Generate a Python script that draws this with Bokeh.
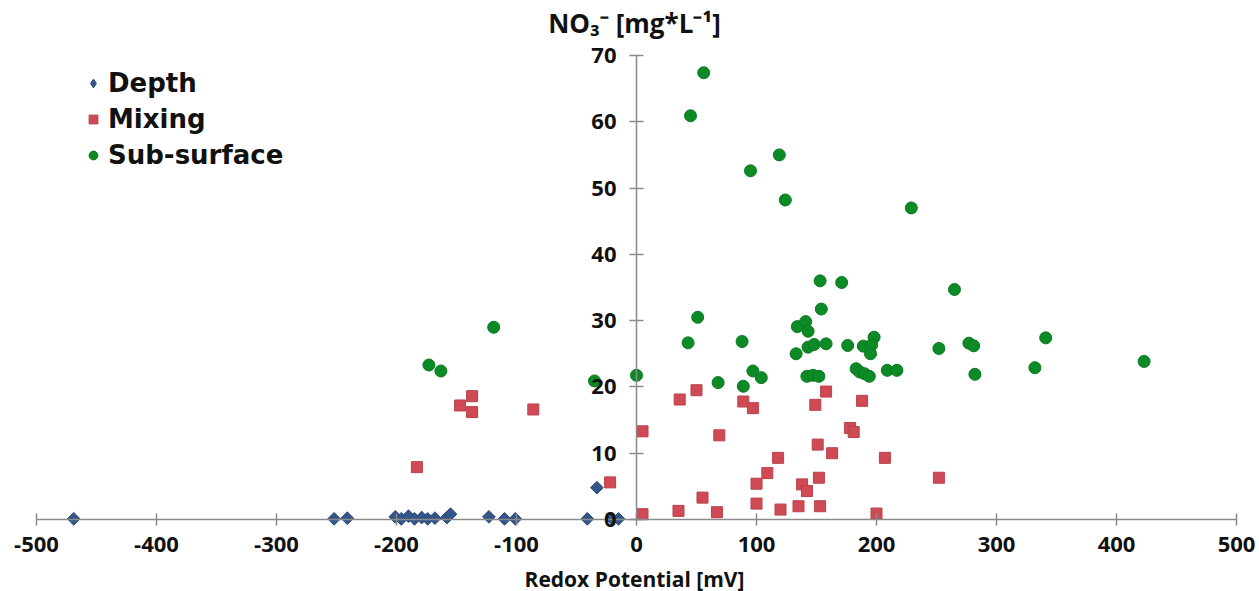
import math
from bokeh.plotting import figure
from bokeh.models import LinearAxis, FixedTicker, Range1d, Label, Legend, LegendItem
from bokeh.embed import file_html
from bokeh.resources import INLINE

# ---------------- data ----------------
depth_x = [-469, -252, -241, -201, -196, -190, -185, -179, -174, -168, -158, -155,
           -123, -110, -101, -41, -33, -20, -15]
depth_y = [0.1, 0.1, 0.2, 0.4, 0.1, 0.5, 0.1, 0.3, 0.1, 0.2, 0.3, 0.8,
           0.4, 0.1, 0.1, 0.1, 4.8, 0.1, 0.1]

mixing_x = [-183, -147, -137, -137, -86, -22, 5, 5, 36, 50, 55, 35, 67, 69, 89, 97,
            100, 100, 109, 118, 120, 135, 138, 142, 149, 151, 152, 153, 158, 163,
            178, 181, 188, 200, 207, 252]
mixing_y = [7.9, 17.2, 18.6, 16.2, 16.6, 5.6, 13.3, 0.8, 18.1, 19.5, 3.3, 1.3, 1.1,
            12.7, 17.8, 16.8, 5.4, 2.4, 7.0, 9.3, 1.5, 2.0, 5.3, 4.3, 17.3, 11.3, 6.3,
            2.0, 19.3, 10.0, 13.8, 13.2, 17.9, 0.9, 9.3, 6.3]

sub_x = [-173, -163, -119, -35, 0, 45, 56, 95, 119, 124, 229, 265, 153, 171, 154,
         51, 134, 141, 143, 43, 88, 133, 143, 148, 158, 176, 189, 198, 196, 195,
         97, 104, 68, 89, 142, 147, 152, 183, 186, 190, 194, 209, 217, 252, 277,
         281, 282, 332, 341, 423]
sub_y = [23.3, 22.4, 29.0, 20.9, 21.75, 60.9, 67.4, 52.6, 55.0, 48.2, 47.0, 34.7,
         36.0, 35.75, 31.75, 30.5, 29.1, 29.85, 28.4, 26.65, 26.85, 25.0, 26.0, 26.4,
         26.5, 26.25, 26.15, 27.5, 26.35, 25.0, 22.4, 21.4, 20.65, 20.1, 21.6, 21.75,
         21.6, 22.75, 22.25, 22.0, 21.6, 22.5, 22.5, 25.8, 26.6, 26.2, 21.9, 22.9,
         27.4, 23.85]

x_ticks = [-500, -400, -300, -200, -100, 0, 100, 200, 300, 400, 500]
y_ticks = [0, 10, 20, 30, 40, 50, 60, 70]

x_title = "Redox Potential [mV]"
y_title = "NO\u2083\u207b [mg*L\u207b\u00b9]"
series_names = ["Depth", "Mixing", "Sub-surface"]

FONT = "Open Sans"
LEG_FONT = "DejaVu Sans"
AXIS_COLOR = "#8a8a8a"
BLUE_FILL, BLUE_LINE = "#33568a", "#2a4874"
RED_FILL, RED_LINE = "#cf4a54", "#b9404a"
GREEN_FILL, GREEN_LINE = "#0b8a25", "#0a7a20"

W, H = 1259, 591
p = figure(width=W, height=H, output_backend="svg", toolbar_location=None,
           x_range=Range1d(-530, -530 + W / 1.2),
           y_range=Range1d(-72 / 6.629, -72 / 6.629 + H / 6.629),
           x_axis_location=None, y_axis_location=None,
           min_border_left=0, min_border_right=0, min_border_top=0, min_border_bottom=0)
p.outline_line_color = None
p.background_fill_color = "white"
p.border_fill_color = "white"
for g in p.grid:
    g.visible = False


def style_axis(ax, ticks):
    ax.axis_line_color = AXIS_COLOR
    ax.axis_line_width = 1.5
    ax.major_tick_line_color = AXIS_COLOR
    ax.major_tick_line_width = 1.5
    ax.major_tick_in = 7
    ax.major_tick_out = 7
    ax.minor_tick_line_color = None
    ax.major_label_text_font = FONT
    ax.major_label_text_font_style = "bold"
    ax.major_label_text_font_size = "22px"
    ax.major_label_text_color = "#111111"
    ax.major_label_overrides = {t: str(t) for t in ticks}


xaxis = LinearAxis(fixed_location=0, ticker=FixedTicker(ticks=x_ticks), bounds=(-500, 500))
style_axis(xaxis, x_ticks)
xaxis.major_tick_in = 6
xaxis.major_tick_out = 6
xaxis.major_label_standoff = 11
p.add_layout(xaxis, "below")

yaxis = LinearAxis(fixed_location=0, ticker=FixedTicker(ticks=y_ticks), bounds=(0, 70))
style_axis(yaxis, y_ticks)
yaxis.major_label_standoff = 13
p.add_layout(yaxis, "left")

r_depth = p.scatter(depth_x, depth_y, marker="square", angle=math.pi / 4, size=9,
                    fill_color=BLUE_FILL, line_color=BLUE_LINE, line_width=1)
r_mix = p.scatter(mixing_x, mixing_y, marker="square", size=11, fill_color=RED_FILL,
                  line_color=RED_LINE, line_width=1)
r_sub = p.scatter(sub_x, sub_y, marker="circle", size=12, fill_color=GREEN_FILL,
                  line_color=GREEN_LINE, line_width=1)
# legend key for the diamond series: a NaN point, never drawn in the plot
nan = float("nan")
r_depth_key = p.scatter(x=[nan], y=[nan], marker="diamond", size=15, fill_color=BLUE_FILL,
                        line_color=BLUE_LINE, line_width=1)

lg = Legend(items=[LegendItem(label=series_names[0], renderers=[r_depth_key]),
                   LegendItem(label=series_names[1], renderers=[r_mix]),
                   LegendItem(label=series_names[2], renderers=[r_sub])])
lg.location = (82, H - 74 - 96)
lg.background_fill_alpha = 0
lg.border_line_color = None
lg.padding = 0
lg.margin = 0
lg.spacing = 6
lg.label_height = 28
lg.glyph_height = 22
lg.glyph_width = 22
lg.label_standoff = 4
lg.label_text_font = LEG_FONT
lg.label_text_font_style = "bold"
lg.label_text_font_size = "26px"
lg.label_text_color = "#111111"
p.add_layout(lg, "center")

p.add_layout(Label(x=634, y=H - 22, x_units="screen", y_units="screen", text=y_title,
                   text_align="center", text_baseline="middle", text_font=FONT,
                   text_font_style="bold", text_font_size="26px", text_color="#111111"))
p.add_layout(Label(x=634, y=H - 578, x_units="screen", y_units="screen", text=x_title,
                   text_align="center", text_baseline="middle", text_font=FONT,
                   text_font_style="bold", text_font_size="21px", text_color="#111111"))

open("out.html", "w").write(file_html(p, INLINE))
